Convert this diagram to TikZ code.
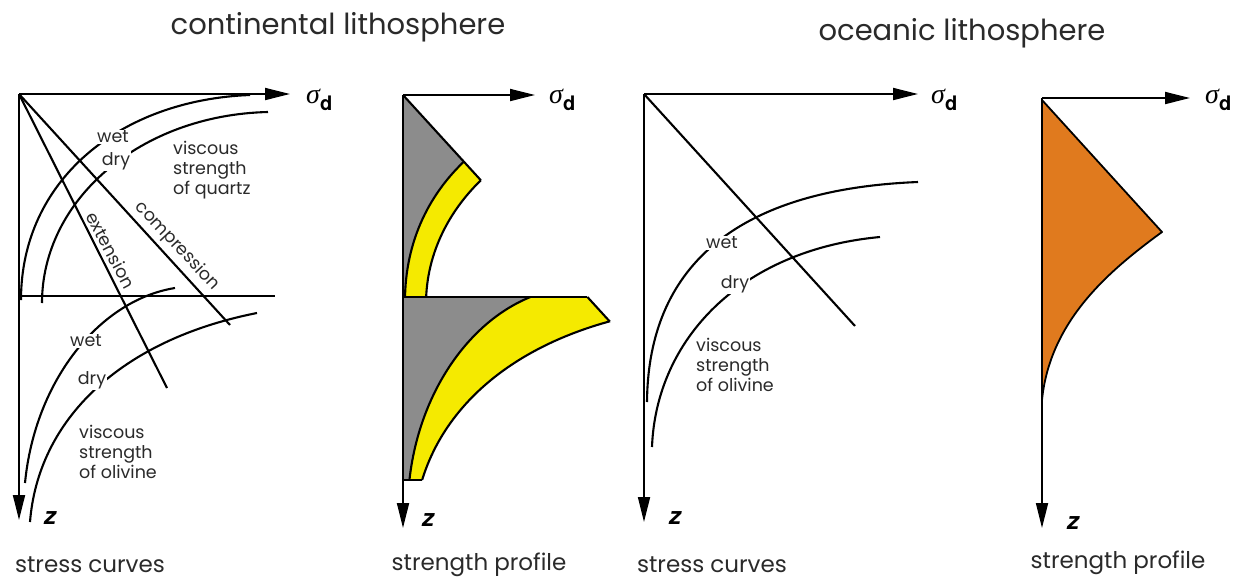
\documentclass[tikz,border=0pt]{standalone}
\usepackage{fontspec}
\setmainfont{Poppins}
\newfontfamily\heros{TeX Gyre Heros}
\newfontfamily\lserif{Liberation Serif}
\usetikzlibrary{arrows.meta}
\definecolor{pgrey}{HTML}{8C8C8C}
\definecolor{pyellow}{HTML}{F5EA00}
\definecolor{porange}{HTML}{E07A1E}
\definecolor{ptext}{HTML}{2A2A2A}
\def\wetQ{(21,300) .. controls (21,180) and (120,100) .. (250,95)}
\def\dryQ{(42,303) .. controls (42,200) and (140,115) .. (268,112)}
\def\wetO{(25,483) .. controls (35,380) and (100,300) .. (175,288)}
\def\dryO{(30,522) .. controls (38,420) and (120,340) .. (257,313)}
\newcommand\sigd{{\fontsize{28}{30}\selectfont\lserif\itshape σ}{\fontsize{20}{22}\selectfont\heros\bfseries\raisebox{-7pt}{d}}}
\begin{document}
\begin{tikzpicture}[x=1pt,y=-1pt,
  axis/.style={line width=1.8pt,-{Triangle[length=25pt,width=12pt]}},
  curve/.style={line width=2.1pt},
  lbl/.style={font=\fontsize{17.5}{20}\selectfont, text=ptext, inner sep=1pt},
  lblw/.style={lbl, fill=white},
  ttl/.style={font=\fontsize{29}{34}\selectfont, text=ptext},
  capt/.style={font=\fontsize{23}{27}\selectfont, text=ptext},
  sig/.style={anchor=west, inner sep=0pt},
  zlbl/.style={font=\fontsize{24}{28}\selectfont\heros\bfseries\itshape}
]
\useasboundingbox (0,0) rectangle (1247,579);
\fill[white] (0,0) rectangle (1247,579);

% titles
\node[ttl] (t1) at (338,27) {continental lithosphere};
\node[ttl] (t2) at (962,33) {oceanic lithosphere};

% ---------------- panel 1 ----------------
\coordinate (o1) at (19,94);
\coordinate (x1) at (290,94);
\coordinate (z1) at (19,520);
\coordinate (h1a) at (19,296);
\coordinate (h1b) at (275,296);
\coordinate (e1) at (167,388);
\coordinate (c1) at (230,325);
\draw[curve] (h1a) -- (h1b);
\draw[curve] (o1) -- (e1);
\draw[curve] (o1) -- (c1);
\draw[curve] \wetQ;
\draw[curve] \dryQ;
\draw[curve] \wetO;
\draw[curve] \dryO;
\draw[axis] (o1) -- (x1);
\draw[axis] (o1) -- (z1);
\node[lblw] (wq1) at (113,137) {wet};
\node[lblw] (dq1) at (116,161) {dry};
\node[lbl, align=left, anchor=west, font=\fontsize{17.5}{20}\selectfont] (vq1) at (172,170) {viscous\\strength\\of quartz};
\node[lbl, rotate=-62] (ext1) at (111,250) {extension};
\node[lbl, rotate=-47] (com1) at (177,246) {compression};
\node[lblw] (wo1) at (86,341) {wet};
\node[lblw] (do1) at (92,380) {dry};
\node[lbl, align=left, anchor=west, font=\fontsize{17.5}{20}\selectfont] (vo1) at (78,452) {viscous\\strength\\of olivine};
\node[sig] (s1) at (306,100) {\sigd};
\node[zlbl] (zl1) at (50,518) {z};
\node[capt] (cap1) at (90,565) {stress curves};

% ---------------- panel 2 ----------------
\begin{scope}[shift={(384,1)}]
  % upper part (crust)
  \begin{scope}
    \clip (19,94) -- (203.4,296) -- (19,296) -- cycle;
    \fill[pgrey] \wetQ -- (250,80) -- (10,80) -- (10,300) -- cycle;
    \fill[pyellow] \wetQ -- (268,112) .. controls (140,115) and (42,200) .. (42,303) -- cycle;
    \draw[curve] \wetQ;
    \draw[curve] \dryQ;
  \end{scope}
  \begin{scope}
    \clip \dryQ -- (268,80) -- (10,80) -- (10,303) -- cycle;
    \draw[curve] (19,94) -- (203.4,296);
  \end{scope}
  % lower part (mantle)
  \begin{scope}
    \clip (19,296) -- (203.4,296) -- (370.5,479) -- (19,479) -- cycle;
    \fill[pgrey] \wetO -- (175,280) -- (10,280) -- (10,483) -- cycle;
    \fill[pyellow] \wetO -- (257,313) .. controls (120,340) and (38,420) .. (30,522) -- cycle;
    \draw[curve] \wetO;
    \draw[curve] \dryO;
  \end{scope}
  \begin{scope}
    \clip \dryO -- (257,290) -- (10,290) -- (10,522) -- cycle;
    \draw[curve] (203.4,296) -- (298.4,400);
    \draw[curve] (19,479) -- (120,479);
  \end{scope}
  \draw[curve] (19,296) -- (203.4,296);
\end{scope}
\coordinate (o2) at (403,95);
\coordinate (x2) at (535,95);
\coordinate (z2) at (403,528);
\draw[axis] (o2) -- (x2);
\draw[axis] (o2) -- (z2);
\node[sig] (s2) at (549,100) {\sigd};
\node[zlbl] (zl2) at (428,520) {z};
\node[capt] (cap2) at (479,565) {strength profile};

% ---------------- panel 3 ----------------
\coordinate (o3) at (644,94);
\coordinate (x3) at (918,94);
\coordinate (z3) at (644,522);
\coordinate (d3) at (855,326);
\draw[curve] (o3) -- (d3);
\draw[curve] (647,402) .. controls (648,280) and (720,190) .. (918,182);
\draw[curve] (652,447) .. controls (656,340) and (740,250) .. (880,237);
\draw[axis] (o3) -- (x3);
\draw[axis] (o3) -- (z3);
\node[lblw] (w3) at (722,243) {wet};
\node[lblw] (d3l) at (735,284) {dry};
\node[lbl, align=left, anchor=west, font=\fontsize{17.5}{20}\selectfont] (vo3) at (695,365) {viscous\\strength\\of olivine};
\node[sig] (s3) at (931,100) {\sigd};
\node[zlbl] (zl3) at (675,518) {z};
\node[capt] (cap3) at (712,565) {stress curves};

% ---------------- panel 4 ----------------
\coordinate (o4) at (1042,98);
\coordinate (x4) at (1190,98);
\coordinate (z4) at (1042,528);
\filldraw[fill=porange, draw=black, line width=1.8pt, line join=round]
  (1042,100) -- (1162,232) .. controls (1110,270) and (1050,320) .. (1042,400) -- cycle;
\draw[axis] (o4) -- (x4);
\draw[axis] (o4) -- (z4);
\node[sig] (s4) at (1205,100) {\sigd};
\node[zlbl] (zl4) at (1073,523) {z};
\node[capt] (cap4) at (1118,563) {strength profile};
\end{tikzpicture}
\end{document}
